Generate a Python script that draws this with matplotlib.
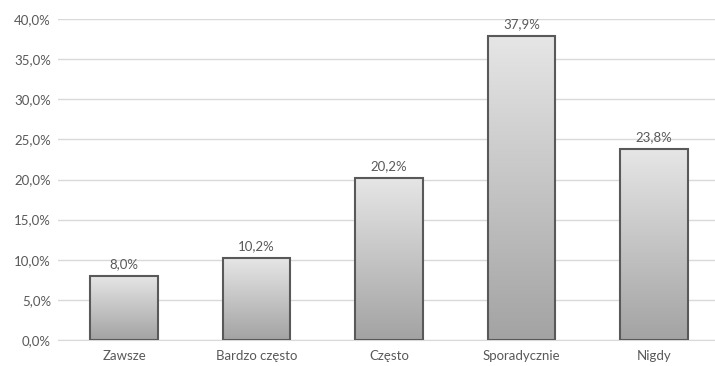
import matplotlib.pyplot as plt
import numpy as np
from matplotlib.ticker import FuncFormatter

categories = ['Zawsze', 'Bardzo często', 'Często', 'Sporadycznie', 'Nigdy']
values = [8.0, 10.2, 20.2, 37.9, 23.8]

plt.rcParams['font.family'] = ['Lato', 'DejaVu Sans']
grey_text = '#595959'

fig = plt.figure(figsize=(7.15, 3.66), dpi=100)
# plot area runs a bit past the right edge, as in the source
ax = fig.add_axes([58 / 715, 26 / 366, 662 / 715, 321 / 366])

x = np.arange(len(categories))
bars = ax.bar(x, values, width=0.51, color='none', edgecolor='#595959',
              linewidth=1.5, zorder=3)

# vertical grey gradient inside each bar
grad = np.linspace(0, 1, 256).reshape(-1, 1)
cmap = plt.matplotlib.colors.LinearSegmentedColormap.from_list('g', ['#a3a3a3', '#e6e6e6'])
for b in bars:
    bx, by = b.get_x(), b.get_y()
    w, h = b.get_width(), b.get_height()
    im = ax.imshow(grad, extent=[bx, bx + w, by, by + h], aspect='auto',
                   cmap=cmap, origin='lower', zorder=2)
    im.set_clip_path(b)

for xi, v in zip(x, values):
    ax.text(xi, v + 0.7, f'{v:.1f}%'.replace('.', ','), ha='center', va='bottom',
            fontsize=9.5, color=grey_text, zorder=4)

ax.set_xlim(-0.5, len(categories) - 0.5)
ax.set_ylim(0, 40)
ax.set_yticks(np.arange(0, 41, 5))
ax.yaxis.set_major_formatter(FuncFormatter(lambda v, p: f'{v:.1f}%'.replace('.', ',')))
ax.set_xticks(x)
ax.set_xticklabels(categories)
ax.grid(axis='y', color='#d9d9d9', linewidth=1, zorder=0)
ax.set_axisbelow(True)
for s in ['top', 'right', 'left']:
    ax.spines[s].set_visible(False)
ax.spines['bottom'].set_color('#d9d9d9')
ax.tick_params(axis='both', length=0, labelsize=9.5, labelcolor=grey_text)
ax.tick_params(axis='y', pad=5)
ax.tick_params(axis='x', pad=7)

fig.savefig('out.png', dpi=100)
